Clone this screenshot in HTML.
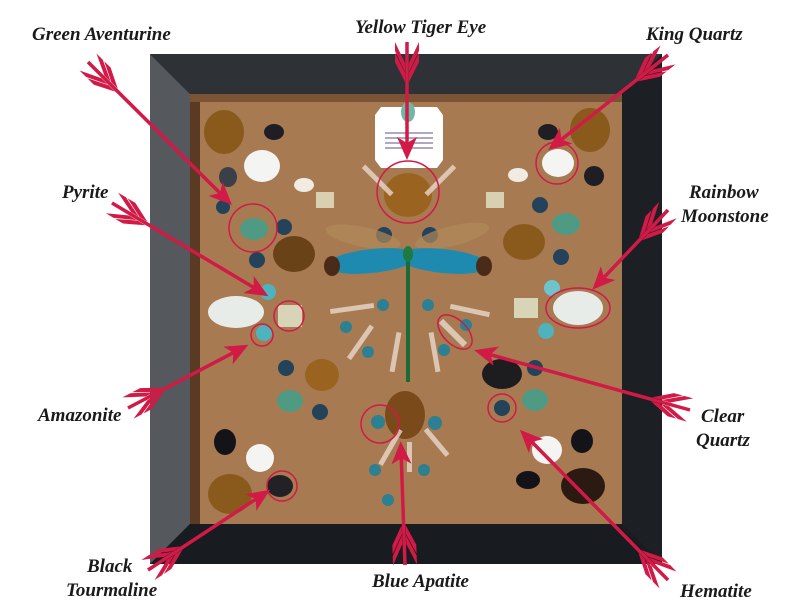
<!DOCTYPE html>
<html><head><meta charset="utf-8"><style>
html,body{margin:0;padding:0;background:#fff;}
svg{display:block;}
text{font-family:"Liberation Serif",serif;font-style:italic;font-weight:bold;font-size:19px;fill:#1a1a1a;}
</style></head><body>
<svg width="792" height="612" viewBox="0 0 792 612" xmlns="http://www.w3.org/2000/svg">
<defs>
<g id="fl">
<polygon points="0,-12 9,-12 30,-2 21,-2" fill="#d11a45"/>
<polygon points="0,12 9,12 30,2 21,2" fill="#d11a45"/>
<polygon points="11,-12 20,-12 40,-2 31,-2" fill="#d11a45"/>
<polygon points="11,12 20,12 40,2 31,2" fill="#d11a45"/>
</g>
</defs>
<!-- frame -->
<rect x="150" y="54" width="512" height="510" fill="#1c1f23"/>
<polygon points="150,54 190,94 190,524 150,564" fill="#55585c"/>
<polygon points="150,54 662,54 622,94 190,94" fill="#2e3135"/>
<polygon points="662,54 662,564 622,524 622,94" fill="#1c1f23"/>
<polygon points="150,564 662,564 622,524 190,524" fill="#181b1f"/>
<rect x="190" y="94" width="432" height="430" fill="#a87a52"/>
<rect x="190" y="94" width="10" height="430" fill="#5a3a22"/>
<rect x="190" y="94" width="432" height="8" fill="#7a5435"/>
<!-- card -->
<polygon points="381,107 437,107 443,115 443,160 437,168 381,168 375,160 375,115" fill="#fff"/>
<ellipse cx="408" cy="112" rx="7" ry="10" fill="#6fb8a8"/>
<g fill="#b0a8c0"><rect x="385" y="132" width="48" height="2"/><rect x="385" y="137" width="48" height="2"/><rect x="385" y="142" width="48" height="2"/><rect x="385" y="147" width="48" height="2"/></g>
<!-- stones -->
<g>
<ellipse cx="224" cy="132" rx="20" ry="22" fill="#8a5a1c"/>
<ellipse cx="590" cy="130" rx="20" ry="22" fill="#8a5a1c"/>
<ellipse cx="262" cy="166" rx="18" ry="16" fill="#f4f4f2"/>
<ellipse cx="558" cy="163" rx="16" ry="14" fill="#f4f4f2"/>
<ellipse cx="304" cy="185" rx="10" ry="7" fill="#f0ece4"/>
<ellipse cx="518" cy="175" rx="10" ry="7" fill="#f0ece4"/>
<rect x="316" y="192" width="18" height="16" fill="#d8d0b0"/>
<rect x="486" y="192" width="18" height="16" fill="#d8d0b0"/>
<ellipse cx="408" cy="195" rx="24" ry="22" fill="#9a6420"/>
<ellipse cx="254" cy="229" rx="14" ry="11" fill="#4f9a82"/>
<ellipse cx="566" cy="224" rx="14" ry="11" fill="#4f9a82"/>
<ellipse cx="294" cy="254" rx="21" ry="18" fill="#6a4218"/>
<ellipse cx="524" cy="242" rx="21" ry="18" fill="#8a5a1c"/>
<ellipse cx="236" cy="312" rx="28" ry="16" fill="#e8ece8"/>
<ellipse cx="578" cy="308" rx="25" ry="17" fill="#e8ece8"/>
<rect x="278" y="305" width="24" height="22" fill="#d8d4b8"/>
<rect x="514" y="298" width="24" height="20" fill="#d8d4b8"/>
<ellipse cx="268" cy="292" rx="8" ry="8" fill="#4fb3bd"/>
<ellipse cx="264" cy="333" rx="8" ry="8" fill="#4fb3bd"/>
<ellipse cx="552" cy="288" rx="8" ry="8" fill="#6fc3cd"/>
<ellipse cx="546" cy="331" rx="8" ry="8" fill="#4fb3bd"/>
<ellipse cx="322" cy="375" rx="17" ry="16" fill="#9a6420"/>
<ellipse cx="502" cy="374" rx="20" ry="15" fill="#1d1d20"/>
<ellipse cx="290" cy="401" rx="13" ry="11" fill="#4f9a82"/>
<ellipse cx="535" cy="400" rx="13" ry="11" fill="#4f9a82"/>
<ellipse cx="405" cy="415" rx="20" ry="24" fill="#7a4a1a"/>
<ellipse cx="225" cy="442" rx="11" ry="13" fill="#141418"/>
<ellipse cx="260" cy="458" rx="14" ry="14" fill="#f4f4f2"/>
<ellipse cx="547" cy="450" rx="15" ry="14" fill="#f4f4f2"/>
<ellipse cx="582" cy="441" rx="11" ry="12" fill="#141418"/>
<ellipse cx="230" cy="494" rx="22" ry="20" fill="#8a5a1c"/>
<ellipse cx="280" cy="486" rx="13" ry="11" fill="#222226"/>
<ellipse cx="583" cy="486" rx="22" ry="18" fill="#2a1a12"/>
<ellipse cx="528" cy="480" rx="12" ry="9" fill="#141418"/>
<ellipse cx="274" cy="132" rx="10" ry="8" fill="#1e1e24"/>
<ellipse cx="548" cy="132" rx="10" ry="8" fill="#1e1e24"/>
<ellipse cx="594" cy="176" rx="10" ry="10" fill="#1e1e24"/>
<ellipse cx="228" cy="177" rx="9" ry="10" fill="#3a3f48"/>
<g fill="#24425a">
<circle cx="284" cy="227" r="8"/><circle cx="257" cy="260" r="8"/><circle cx="384" cy="235" r="8"/><circle cx="430" cy="235" r="8"/>
<circle cx="540" cy="205" r="8"/><circle cx="561" cy="257" r="8"/><circle cx="286" cy="368" r="8"/><circle cx="535" cy="368" r="8"/>
<circle cx="320" cy="412" r="8"/><circle cx="502" cy="408" r="8"/><circle cx="223" cy="207" r="7"/>
</g>
<g fill="#2d7f92">
<circle cx="383" cy="305" r="6"/><circle cx="428" cy="305" r="6"/><circle cx="346" cy="327" r="6"/><circle cx="368" cy="352" r="6"/>
<circle cx="466" cy="325" r="6"/><circle cx="444" cy="350" r="6"/><circle cx="378" cy="422" r="7"/><circle cx="435" cy="423" r="7"/>
<circle cx="388" cy="500" r="6"/><circle cx="424" cy="470" r="6"/><circle cx="375" cy="470" r="6"/>
</g>
<g fill="#e8d8cc" opacity="0.8">
<rect x="330" y="306" width="44" height="5" transform="rotate(-8 352 308)"/>
<rect x="450" y="308" width="40" height="5" transform="rotate(12 470 310)"/>
<rect x="340" y="340" width="40" height="5" transform="rotate(-55 360 342)"/>
<rect x="375" y="350" width="40" height="5" transform="rotate(-80 395 352)"/>
<rect x="415" y="350" width="40" height="5" transform="rotate(80 435 352)"/>
<rect x="436" y="330" width="34" height="6" transform="rotate(45 453 333)"/>
<rect x="370" y="445" width="40" height="5" transform="rotate(-60 390 447)"/>
<rect x="395" y="455" width="30" height="5" transform="rotate(90 410 457)"/>
<rect x="420" y="440" width="34" height="5" transform="rotate(50 437 442)"/>
<rect x="358" y="178" width="40" height="5" transform="rotate(45 378 180)"/>
<rect x="420" y="178" width="40" height="5" transform="rotate(-45 440 180)"/>
</g>
<!-- dragonfly -->
<ellipse cx="363" cy="237" rx="38" ry="10" fill="#b08a5a" opacity="0.7" transform="rotate(12 363 237)"/>
<ellipse cx="452" cy="236" rx="38" ry="10" fill="#b08a5a" opacity="0.7" transform="rotate(-14 452 236)"/>
<ellipse cx="372" cy="261" rx="46" ry="12" fill="#1e8ab0" transform="rotate(-6 372 261)"/>
<ellipse cx="443" cy="261" rx="46" ry="12" fill="#1e8ab0" transform="rotate(6 443 261)"/>
<ellipse cx="332" cy="266" rx="8" ry="10" fill="#4a2a18"/>
<ellipse cx="484" cy="266" rx="8" ry="10" fill="#4a2a18"/>
<rect x="406" y="248" width="4" height="134" fill="#1a6a3a"/>
<ellipse cx="408" cy="254" rx="5" ry="8" fill="#1e7a40"/>
</g>
<!-- circles -->
<g fill="none" stroke="#d11a45" stroke-width="1.5">
<circle cx="253" cy="228" r="24"/>
<circle cx="408" cy="192" r="31"/>
<circle cx="557" cy="163" r="21"/>
<circle cx="289" cy="316" r="15"/>
<ellipse cx="578" cy="308" rx="32" ry="20"/>
<circle cx="262" cy="335" r="11"/>
<ellipse cx="455" cy="332" rx="21" ry="12" transform="rotate(45 455 332)"/>
<circle cx="282" cy="486" r="15"/>
<circle cx="380" cy="424" r="19"/>
<circle cx="502" cy="408" r="14"/>
</g>
<!-- arrows -->
<g>
<g transform="translate(88,62) rotate(44.8)"><line x1="0" y1="0" x2="190" y2="0" stroke="#d11a45" stroke-width="3.5"/><polygon points="203,0 180,-10 186,0 180,10" fill="#d11a45"/><use href="#fl"/></g>
<g transform="translate(407,42) rotate(90)"><line x1="0" y1="0" x2="105" y2="0" stroke="#d11a45" stroke-width="3.5"/><polygon points="118,0 95,-10 101,0 95,10" fill="#d11a45"/><use href="#fl"/></g>
<g transform="translate(668,55) rotate(141.6)"><line x1="0" y1="0" x2="140" y2="0" stroke="#d11a45" stroke-width="3.5"/><polygon points="153,0 130,-10 136,0 130,10" fill="#d11a45"/><use href="#fl"/></g>
<g transform="translate(112,203) rotate(30.8)"><line x1="0" y1="0" x2="170" y2="0" stroke="#d11a45" stroke-width="3.5"/><polygon points="182,0 159,-10 165,0 159,10" fill="#d11a45"/><use href="#fl"/></g>
<g transform="translate(668,210) rotate(133.5)"><line x1="0" y1="0" x2="98" y2="0" stroke="#d11a45" stroke-width="3.5"/><polygon points="110,0 87,-10 93,0 87,10" fill="#d11a45"/><use href="#fl"/></g>
<g transform="translate(128,408) rotate(-27.7)"><line x1="0" y1="0" x2="124" y2="0" stroke="#d11a45" stroke-width="3.5"/><polygon points="136,0 113,-10 119,0 113,10" fill="#d11a45"/><use href="#fl"/></g>
<g transform="translate(690,410) rotate(195.5)"><line x1="0" y1="0" x2="212" y2="0" stroke="#d11a45" stroke-width="3.5"/><polygon points="224,0 201,-10 207,0 201,10" fill="#d11a45"/><use href="#fl"/></g>
<g transform="translate(148,570) rotate(-33.3)"><line x1="0" y1="0" x2="134" y2="0" stroke="#d11a45" stroke-width="3.5"/><polygon points="146,0 123,-10 129,0 123,10" fill="#d11a45"/><use href="#fl"/></g>
<g transform="translate(405,565) rotate(-92)"><line x1="0" y1="0" x2="112" y2="0" stroke="#d11a45" stroke-width="3.5"/><polygon points="124,0 101,-10 107,0 101,10" fill="#d11a45"/><use href="#fl"/></g>
<g transform="translate(668,580) rotate(225.4)"><line x1="0" y1="0" x2="198" y2="0" stroke="#d11a45" stroke-width="3.5"/><polygon points="211,0 188,-10 194,0 188,10" fill="#d11a45"/><use href="#fl"/></g>
</g>
<!-- labels -->
<text x="32" y="40">Green Aventurine</text>
<text x="355" y="33">Yellow Tiger Eye</text>
<text x="646" y="40">King Quartz</text>
<text x="62" y="198">Pyrite</text>
<text x="689" y="198">Rainbow</text>
<text x="681" y="222">Moonstone</text>
<text x="38" y="421">Amazonite</text>
<text x="701" y="422">Clear</text>
<text x="696" y="446">Quartz</text>
<text x="87" y="572">Black</text>
<text x="66" y="596">Tourmaline</text>
<text x="372" y="587">Blue Apatite</text>
<text x="680" y="597">Hematite</text>
</svg>
</body></html>
